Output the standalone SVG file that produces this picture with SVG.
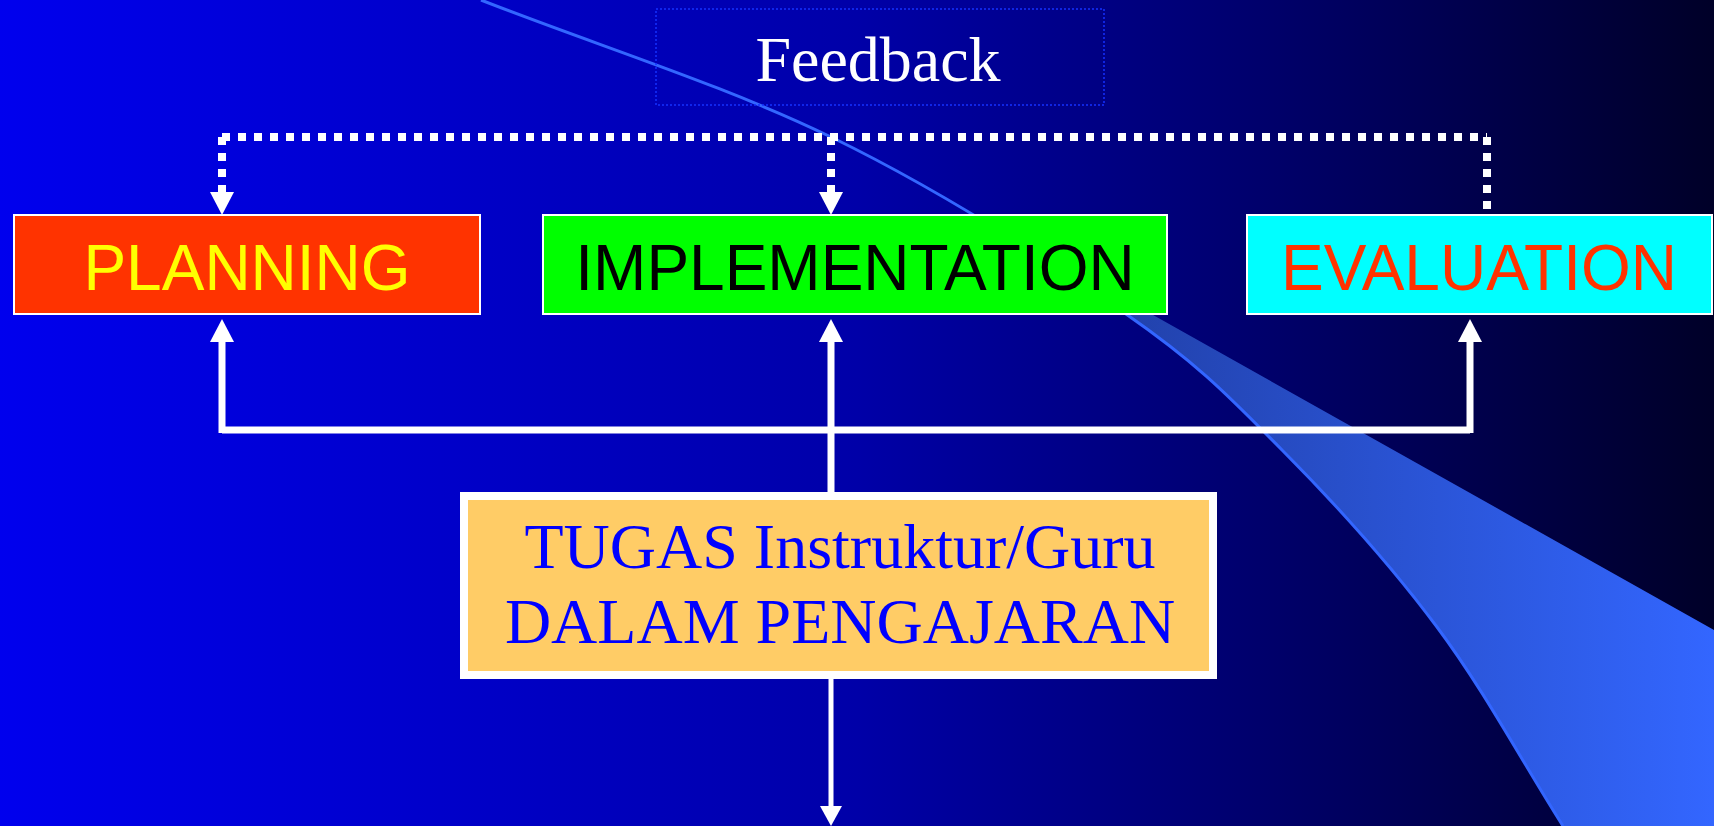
<svg xmlns="http://www.w3.org/2000/svg" width="1714" height="826" viewBox="0 0 1714 826">
<defs>
<linearGradient id="bg" x1="0" y1="0" x2="1" y2="0">
<stop offset="0" stop-color="#0000EE"/>
<stop offset="0.5" stop-color="#0000A8"/>
<stop offset="1" stop-color="#000028"/>
</linearGradient>
<linearGradient id="wedge" gradientUnits="userSpaceOnUse" x1="1000" y1="0" x2="1714" y2="0">
<stop offset="0" stop-color="#1E3A9A"/>
<stop offset="1" stop-color="#3366FF"/>
</linearGradient>
<marker id="ah" viewBox="0 0 10 10" refX="10" refY="5" markerWidth="3" markerHeight="3" markerUnits="strokeWidth" orient="auto">
<path d="M0,0 L10,5 L0,10 Z" fill="#FFFFFF"/>
</marker>
<marker id="ahd" viewBox="0 0 10 10" refX="10" refY="5" markerWidth="3" markerHeight="3" markerUnits="strokeWidth" orient="auto">
<path d="M0,0 L10,5 L0,10 Z" fill="#FFFFFF"/>
</marker>
</defs>
<style>
.box{stroke:#FFFFFF;stroke-width:2}
.sans{font-family:"Liberation Sans",Arial,sans-serif;font-size:64px;text-anchor:middle}
.serif{font-family:"Liberation Serif","Times New Roman",serif;font-size:64px;text-anchor:middle}
.dot{fill:none;stroke:#FFFFFF;stroke-width:8;stroke-dasharray:8 8}
.solid{fill:none;stroke:#FFFFFF;stroke-width:7}
</style>
<rect x="0" y="0" width="1714" height="826" fill="url(#bg)"/>
<g id="decoration">
<path d="M975,215 L1714,630 L1714,826 L1563,826 C1521,759.7 1483.8,689.7 1437,627 C1390.2,564.3 1333.8,502.2 1282,450 C1230.2,397.8 1201.2,366.2 1126,314 Z" fill="url(#wedge)"/>
<path d="M481,0 C597.7,45.7 723.5,84.7 831,137 C938.5,189.3 1050.8,261.8 1126,314 C1201.2,366.2 1230.2,397.8 1282,450 C1333.8,502.2 1390.2,564.3 1437,627 C1483.8,689.7 1521,759.7 1563,826" fill="none" stroke="#3366FF" stroke-width="3"/>
</g>
<g id="feedback">
<rect x="656" y="9" width="448" height="96" fill="none" stroke="#1530FF" stroke-width="1.5" stroke-dasharray="2 2"/>
<text x="878" y="81" class="serif" fill="#FFFFFF">Feedback</text>
</g>
<g id="connectors">
<path class="dot" d="M222,137 L1487,137"/>
<path class="dot" d="M222,137 L222,194"/>
<path d="M210,192 L234,192 L222,215 Z" fill="#FFFFFF"/>
<path class="dot" d="M831,137 L831,194"/>
<path d="M819,192 L843,192 L831,215 Z" fill="#FFFFFF"/>
<path class="dot" d="M1487,137 L1487,215"/>
<path class="solid" d="M222,430 L1470,430"/>
<path class="solid" d="M222,433 L222,340"/>
<path d="M210,342 L234,342 L222,319 Z" fill="#FFFFFF"/>
<path class="solid" d="M1470,433 L1470,340"/>
<path d="M1458,342 L1482,342 L1470,319 Z" fill="#FFFFFF"/>
<path class="solid" d="M831,494 L831,340"/>
<path d="M819,342 L843,342 L831,319 Z" fill="#FFFFFF"/>
<path d="M831,679 L831,808" fill="none" stroke="#FFFFFF" stroke-width="5"/>
<path d="M820,806 L842,806 L831,826 Z" fill="#FFFFFF"/>
</g>
<g id="planning">
<rect x="14" y="215" width="466" height="99" fill="#FF3300" class="box"/>
<text x="247" y="290" class="sans" fill="#FFFF00">PLANNING</text>
</g>
<g id="implementation">
<rect x="543" y="215" width="624" height="99" fill="#00FF00" class="box"/>
<text x="855" y="290" class="sans" fill="#000000">IMPLEMENTATION</text>
</g>
<g id="evaluation">
<rect x="1247" y="215" width="465" height="99" fill="#00FFFF" class="box"/>
<text x="1479" y="290" class="sans" fill="#FF3300">EVALUATION</text>
</g>
<g id="tugas">
<rect x="464" y="496" width="749" height="179" fill="#FFCC66" stroke="#FFFFFF" stroke-width="8"/>
<text x="840" y="568" class="serif" fill="#0000FF">TUGAS Instruktur/Guru</text>
<text x="840" y="643" class="serif" fill="#0000FF">DALAM PENGAJARAN</text>
</g>
</svg>
